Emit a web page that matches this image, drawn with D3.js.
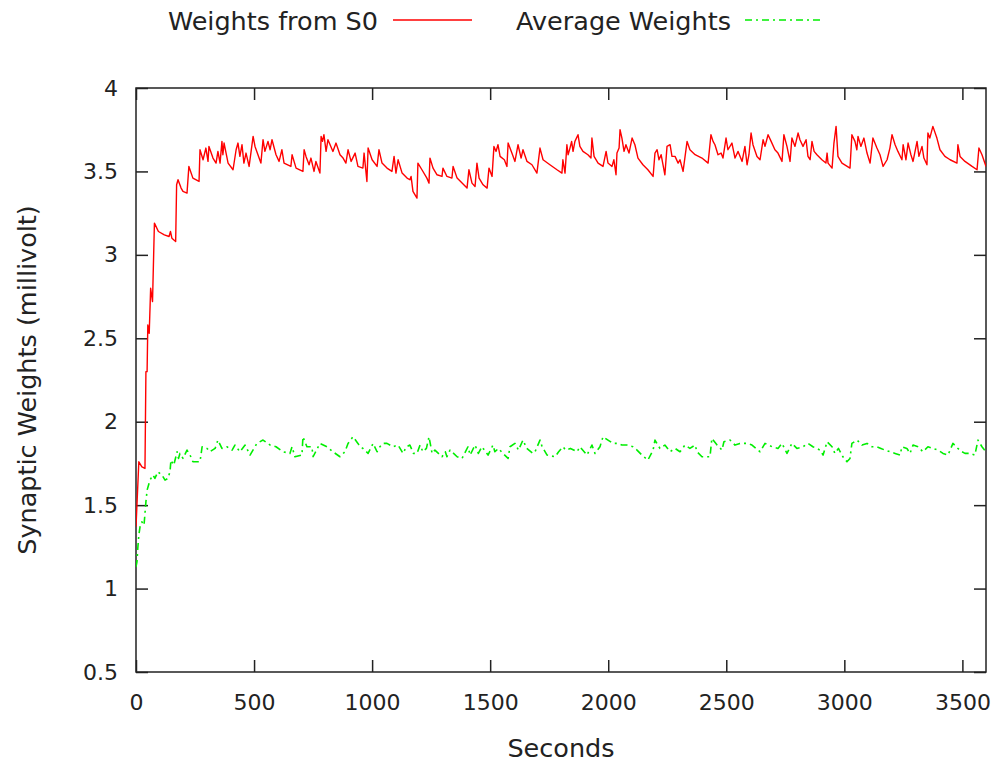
<!DOCTYPE html>
<html>
<head>
<meta charset="utf-8">
<script src="https://cdn.jsdelivr.net/npm/d3@7"></script>
<style>
  html, body { margin: 0; padding: 0; background: #fff; }
  svg { display: block; font-family: "DejaVu Sans", sans-serif; }
</style>
</head>
<body>
<svg id="chart" width="1003" height="762"></svg>
<script>
// Axis tick values
const xTicks = [0, 500, 1000, 1500, 2000, 2500, 3000, 3500];
const yTicks = [0.5, 1, 1.5, 2, 2.5, 3, 3.5, 4];

// Series labels
const seriesNames = ["Weights from S0", "Average Weights"];

// Synaptic weight from S0 over time: [seconds, millivolt]
const s0Weights = [
  [0,1.37],[12,1.76],[25,1.73],[38,1.72],[42,2.30],[47,2.30],[50,2.58],[56,2.53],[62,2.80],[70,2.72],
  [78,3.19],[95,3.14],[120,3.12],[140,3.11],[146,3.14],[152,3.10],[168,3.08],[172,3.42],[178,3.45],[191,3.40],
  [199,3.38],[216,3.37],[224,3.53],[241,3.46],[267,3.44],[271,3.63],[284,3.57],[296,3.64],[305,3.56],[309,3.65],
  [326,3.58],[339,3.55],[347,3.62],[356,3.55],[364,3.68],[368,3.60],[373,3.67],[390,3.55],[411,3.51],[424,3.63],
  [432,3.67],[440,3.59],[449,3.66],[457,3.55],[466,3.61],[479,3.53],[496,3.71],[504,3.65],[529,3.55],[538,3.69],
  [546,3.62],[559,3.68],[568,3.63],[576,3.69],[593,3.60],[606,3.56],[618,3.63],[627,3.55],[656,3.53],[661,3.60],
  [678,3.52],[707,3.50],[712,3.63],[720,3.59],[733,3.54],[741,3.58],[754,3.50],[762,3.56],[779,3.49],[784,3.71],
  [790,3.68],[796,3.72],[805,3.62],[813,3.69],[822,3.66],[834,3.62],[847,3.67],[864,3.60],[877,3.58],[889,3.55],
  [898,3.63],[911,3.56],[928,3.61],[940,3.53],[961,3.52],[966,3.61],[978,3.44],[983,3.64],[1000,3.57],[1021,3.53],
  [1029,3.63],[1042,3.55],[1063,3.52],[1084,3.50],[1093,3.59],[1101,3.49],[1110,3.57],[1127,3.49],[1148,3.46],[1160,3.45],
  [1165,3.47],[1173,3.38],[1190,3.34],[1194,3.55],[1211,3.51],[1232,3.46],[1241,3.43],[1245,3.58],[1258,3.52],[1275,3.48],
  [1296,3.47],[1300,3.52],[1317,3.47],[1338,3.46],[1343,3.53],[1360,3.46],[1381,3.43],[1402,3.40],[1410,3.51],[1423,3.43],
  [1436,3.41],[1444,3.55],[1453,3.46],[1470,3.42],[1487,3.40],[1495,3.52],[1508,3.47],[1516,3.65],[1525,3.62],[1533,3.66],
  [1542,3.59],[1560,3.57],[1571,3.53],[1576,3.67],[1592,3.61],[1605,3.56],[1618,3.66],[1631,3.58],[1639,3.63],[1656,3.56],
  [1677,3.54],[1698,3.49],[1711,3.64],[1724,3.57],[1753,3.54],[1783,3.51],[1804,3.49],[1808,3.57],[1817,3.49],[1825,3.66],
  [1830,3.60],[1838,3.64],[1845,3.68],[1851,3.62],[1859,3.68],[1872,3.72],[1880,3.65],[1893,3.62],[1914,3.60],[1927,3.58],
  [1931,3.70],[1940,3.59],[1957,3.55],[1978,3.53],[1991,3.62],[1999,3.55],[2016,3.53],[2024,3.57],[2033,3.48],[2037,3.61],
  [2046,3.64],[2050,3.75],[2058,3.70],[2067,3.62],[2075,3.66],[2088,3.61],[2101,3.70],[2113,3.66],[2126,3.58],[2147,3.54],
  [2168,3.51],[2190,3.47],[2198,3.61],[2207,3.63],[2215,3.57],[2224,3.60],[2240,3.48],[2249,3.65],[2262,3.66],[2270,3.59],
  [2283,3.59],[2296,3.55],[2304,3.57],[2317,3.50],[2334,3.68],[2346,3.63],[2368,3.60],[2397,3.58],[2423,3.55],[2435,3.72],
  [2444,3.68],[2452,3.66],[2465,3.60],[2478,3.61],[2486,3.58],[2499,3.70],[2507,3.63],[2524,3.67],[2537,3.58],[2550,3.62],
  [2567,3.56],[2579,3.65],[2588,3.54],[2596,3.60],[2605,3.73],[2613,3.66],[2630,3.59],[2643,3.57],[2656,3.69],[2664,3.65],
  [2677,3.72],[2690,3.68],[2706,3.63],[2719,3.61],[2736,3.56],[2744,3.72],[2757,3.65],[2770,3.56],[2778,3.70],[2791,3.65],
  [2804,3.73],[2812,3.69],[2825,3.65],[2838,3.69],[2846,3.59],[2855,3.57],[2863,3.68],[2872,3.62],[2884,3.60],[2905,3.57],
  [2922,3.55],[2927,3.61],[2931,3.55],[2948,3.52],[2956,3.67],[2965,3.77],[2973,3.59],[2990,3.55],[3024,3.52],[3032,3.72],
  [3045,3.68],[3053,3.63],[3058,3.71],[3070,3.65],[3083,3.70],[3096,3.61],[3109,3.55],[3121,3.70],[3138,3.64],[3151,3.60],
  [3164,3.53],[3181,3.57],[3193,3.64],[3202,3.72],[3215,3.66],[3227,3.62],[3244,3.57],[3249,3.66],[3261,3.57],[3270,3.67],
  [3282,3.60],[3291,3.56],[3308,3.68],[3316,3.59],[3329,3.65],[3337,3.58],[3350,3.54],[3354,3.73],[3362,3.70],[3375,3.77],
  [3392,3.70],[3405,3.63],[3426,3.59],[3448,3.57],[3477,3.55],[3481,3.66],[3490,3.59],[3511,3.56],[3541,3.53],[3562,3.51],
  [3570,3.64],[3583,3.60],[3600,3.53]
];

// Average synaptic weight over time: [seconds, millivolt]
const avgWeights = [
  [0,1.13],[4,1.16],[8,1.25],[12,1.32],[17,1.37],[25,1.40],[34,1.38],[42,1.52],[47,1.59],[59,1.65],
  [72,1.68],[80,1.66],[93,1.70],[110,1.68],[123,1.65],[135,1.66],[144,1.70],[148,1.77],[160,1.74],[174,1.82],
  [180,1.78],[186,1.81],[199,1.78],[216,1.83],[229,1.80],[241,1.76],[271,1.76],[280,1.85],[301,1.84],[313,1.82],
  [335,1.84],[347,1.89],[364,1.84],[385,1.85],[407,1.83],[419,1.86],[440,1.82],[462,1.86],[483,1.80],[512,1.87],
  [538,1.89],[568,1.86],[593,1.85],[623,1.82],[652,1.81],[661,1.85],[673,1.79],[703,1.80],[707,1.91],[724,1.85],
  [745,1.85],[750,1.79],[779,1.87],[809,1.85],[834,1.82],[864,1.79],[885,1.82],[898,1.87],[919,1.91],[940,1.87],
  [949,1.85],[961,1.84],[983,1.81],[1004,1.87],[1021,1.82],[1033,1.85],[1046,1.87],[1063,1.87],[1088,1.85],[1110,1.86],
  [1131,1.81],[1145,1.85],[1160,1.86],[1175,1.81],[1190,1.81],[1203,1.86],[1215,1.82],[1230,1.84],[1241,1.91],[1254,1.81],
  [1266,1.83],[1296,1.79],[1310,1.82],[1317,1.79],[1330,1.83],[1360,1.79],[1381,1.78],[1406,1.85],[1415,1.80],[1436,1.86],
  [1450,1.81],[1465,1.85],[1491,1.80],[1512,1.86],[1520,1.82],[1535,1.84],[1554,1.81],[1576,1.78],[1584,1.85],[1605,1.87],
  [1620,1.83],[1639,1.89],[1655,1.84],[1681,1.81],[1690,1.82],[1711,1.89],[1720,1.85],[1741,1.80],[1775,1.79],[1790,1.82],
  [1808,1.85],[1820,1.83],[1840,1.84],[1868,1.82],[1880,1.85],[1910,1.80],[1931,1.86],[1944,1.81],[1965,1.85],[1978,1.91],
  [1999,1.89],[2020,1.87],[2040,1.87],[2058,1.86],[2079,1.86],[2105,1.85],[2122,1.83],[2143,1.80],[2168,1.77],[2190,1.83],
  [2198,1.89],[2219,1.84],[2240,1.86],[2262,1.82],[2283,1.84],[2304,1.82],[2325,1.86],[2346,1.84],[2368,1.86],[2376,1.82],
  [2397,1.79],[2431,1.79],[2439,1.90],[2461,1.86],[2482,1.83],[2490,1.88],[2516,1.89],[2537,1.86],[2558,1.87],[2588,1.87],
  [2609,1.86],[2634,1.83],[2643,1.82],[2664,1.87],[2694,1.85],[2719,1.84],[2736,1.87],[2757,1.81],[2778,1.87],[2799,1.84],
  [2825,1.85],[2846,1.87],[2867,1.85],[2897,1.83],[2910,1.80],[2927,1.88],[2948,1.85],[2960,1.81],[2975,1.84],[2994,1.79],
  [3011,1.76],[3024,1.78],[3032,1.87],[3054,1.89],[3075,1.86],[3096,1.87],[3117,1.85],[3138,1.85],[3155,1.84],[3172,1.83],
  [3193,1.82],[3215,1.81],[3236,1.80],[3244,1.85],[3265,1.84],[3278,1.81],[3291,1.86],[3312,1.85],[3333,1.82],[3354,1.85],
  [3375,1.84],[3397,1.83],[3418,1.81],[3439,1.80],[3460,1.87],[3481,1.84],[3498,1.82],[3511,1.81],[3532,1.81],[3553,1.80],
  [3566,1.89],[3583,1.85],[3600,1.82]
];

const svg = d3.select("#chart");
const W = 1003, H = 762;
const margin = { left: 136, right: 17, top: 88, bottom: 90 };
const plotW = W - margin.left - margin.right;
const plotH = H - margin.top - margin.bottom;

const x = d3.scaleLinear().domain([0, 3600]).range([margin.left, margin.left + plotW]);
const y = d3.scaleLinear().domain([0.5, 4]).range([margin.top + plotH, margin.top]);

const tickFont = 22;
const titleFont = 25.5;
const tickLen = 12;
const frameColor = "#222";

// Clip region for the data lines
svg.append("defs").append("clipPath").attr("id", "plot-clip")
  .append("rect")
  .attr("x", margin.left).attr("y", margin.top)
  .attr("width", plotW).attr("height", plotH);

// Inward ticks on all four sides, labels on bottom and left only
const fmt = d3.format("~g");
const axisBottom = d3.axisBottom(x).tickValues(xTicks).tickSizeInner(-tickLen).tickSizeOuter(0).tickPadding(tickLen + 10).tickFormat(fmt);
const axisTop = d3.axisTop(x).tickValues(xTicks).tickSizeInner(-tickLen).tickSizeOuter(0).tickFormat("");
const axisLeft = d3.axisLeft(y).tickValues(yTicks).tickSizeInner(-tickLen).tickSizeOuter(0).tickPadding(tickLen + 6).tickFormat(fmt);
const axisRight = d3.axisRight(y).tickValues(yTicks).tickSizeInner(-tickLen).tickSizeOuter(0).tickFormat("");

function styleAxis(g) {
  g.select(".domain").remove();
  g.selectAll(".tick line").attr("stroke", frameColor).attr("stroke-width", 1.5);
  g.selectAll(".tick text").attr("fill", "#222").attr("font-size", tickFont).attr("font-family", "DejaVu Sans, sans-serif");
}

svg.append("g").attr("transform", `translate(0,${margin.top + plotH})`).call(axisBottom).call(styleAxis);
svg.append("g").attr("transform", `translate(0,${margin.top})`).call(axisTop).call(styleAxis);
svg.append("g").attr("transform", `translate(${margin.left},0)`).call(axisLeft).call(styleAxis);
svg.append("g").attr("transform", `translate(${margin.left + plotW},0)`).call(axisRight).call(styleAxis);

// Plot frame
svg.append("rect")
  .attr("x", margin.left).attr("y", margin.top)
  .attr("width", plotW).attr("height", plotH)
  .attr("fill", "none").attr("stroke", frameColor).attr("stroke-width", 1.5);

// Data lines
const line = d3.line().x(d => x(d[0])).y(d => y(d[1]));
const seriesStyle = [
  { data: s0Weights, color: "#ff0000", dash: null, width: 1.4 },
  { data: avgWeights, color: "#00ee00", dash: "7,4,2,4", width: 1.6 }
];
const lines = svg.append("g").attr("clip-path", "url(#plot-clip)");
seriesStyle.forEach(s => {
  lines.append("path")
    .datum(s.data)
    .attr("fill", "none")
    .attr("stroke", s.color)
    .attr("stroke-width", s.width)
    .attr("stroke-linejoin", "round")
    .attr("stroke-dasharray", s.dash)
    .attr("d", line);
});

// Axis titles
svg.append("text")
  .attr("x", margin.left + plotW / 2).attr("y", 757)
  .attr("text-anchor", "middle").attr("font-size", titleFont).attr("fill", "#222")
  .text("Seconds");
svg.append("text")
  .attr("transform", `translate(36,${margin.top + plotH / 2}) rotate(-90)`)
  .attr("text-anchor", "middle").attr("font-size", titleFont).attr("fill", "#222")
  .text("Synaptic Weights (millivolt)");

// Legend across the top
const legend = svg.append("g");
const legendItems = [
  { name: seriesNames[0], textRight: 378, x1: 393, x2: 472, style: seriesStyle[0] },
  { name: seriesNames[1], textRight: 731, x1: 745, x2: 820, style: seriesStyle[1] }
];
legendItems.forEach(it => {
  legend.append("text")
    .attr("x", it.textRight).attr("y", 30)
    .attr("text-anchor", "end").attr("font-size", titleFont).attr("fill", "#222")
    .text(it.name);
  legend.append("line")
    .attr("x1", it.x1).attr("x2", it.x2).attr("y1", 20).attr("y2", 20)
    .attr("stroke", it.style.color).attr("stroke-width", it.style.width)
    .attr("stroke-dasharray", it.style.dash);
});
</script>
</body>
</html>
